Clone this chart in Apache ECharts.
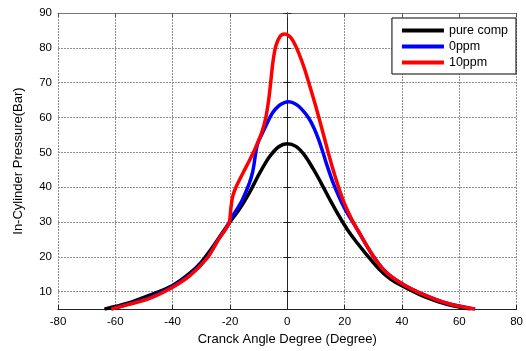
<!DOCTYPE html>
<html><head><meta charset="utf-8">
<script src="https://cdn.jsdelivr.net/npm/echarts@6/dist/echarts.min.js"></script>
<style>html,body{margin:0;padding:0;background:#fff}#c{width:526px;height:351px}</style>
</head><body><div id="c"></div>
<script>
const xTicks = [-80,-60,-40,-20,0,20,40,60,80];
const yTicks = [10,20,30,40,50,60,70,80,90];
const seriesNames = ['pure comp','0ppm','10ppm'];

const pureX = [-63.8,-56,-48,-40,-34,-30,-26,-23,-20.3,-16.8,-13.3,-9.8,-6.4,-3,0,3,6,9,12,15,18,21,24,28,32,36,40,48,56,64];
const pureY = [5,6.6,9.0,11.8,15.3,18.5,22.9,26.5,29.7,33.6,38.3,43.8,48.5,51.6,52.5,51.7,49.2,45.3,40.9,36.2,31.8,27.8,24.4,20.3,16.5,13.6,11.7,8.5,6.3,5];

const ppm0X = [-61.4,-56,-48,-40,-34,-28,-24,-21,-19.2,-17,-15.7,-13.3,-12.2,-11.6,-11.0,-10.3,-9.0,-7.5,-5.2,-2.9,-1,0.6,3,5,7.5,9.3,11,12.5,14,16,18,20,22.6,25,29.6,34.2,40,48,56,65.5];
const ppm0Y = [5,6.3,8.3,11.5,14.8,19.8,25.1,28.7,31.6,34.4,36.3,41.0,44.0,46.6,50.0,52.6,55.0,57.6,61.3,63.4,64.3,64.5,63.8,62.4,59.8,57.0,53.5,49.8,45.9,41.2,37.3,33.9,30.3,27.0,20.7,15.8,12.3,9.0,6.6,5];

const ppm10X = [-61.4,-56,-48,-40,-34,-28,-24,-21,-20.2,-19.6,-19.0,-17.8,-15.5,-13,-11,-9,-7.5,-6.5,-5.8,-5.0,-4.0,-2.5,-1,0.5,2,4,6,8,10,12,14,16,18,20,22.6,25,29.6,34.2,40,48,56,65.5];
const ppm10Y = [5,6.2,8.1,11.3,14.6,19.6,25.0,28.6,30.0,34.5,37.5,40.2,44.0,48.0,51.5,55.5,60.0,65.0,70.0,76.0,80.5,83.3,84.0,83.5,82.0,78.5,74.0,68.6,63.0,57.0,50.8,44.9,39.7,35.2,30.6,27.1,20.7,15.8,12.3,9.0,6.6,5];

function zip(xs, ys){ return xs.map((x,i)=>[x, ys[i]]); }

const font = 'Liberation Sans, Arial, sans-serif';
const chart = echarts.init(document.getElementById('c'), null, {renderer:'canvas'});
const gridLine = {show:true, lineStyle:{color:'#909090', width:1, type:[2,1]}};
chart.setOption({
  animation:false,
  backgroundColor:'#fff',
  grid:{left:58, right:8, top:13, bottom:37, containLabel:false},
  legend:{
    data:seriesNames, orient:'vertical', right:10, top:18,
    backgroundColor:'#fff', borderColor:'#000', borderWidth:1,
    padding:[6,8,5,10], itemGap:3, itemWidth:42, itemHeight:4, icon:'rect',
    textStyle:{fontFamily:font, fontSize:12.5, color:'#000', padding:[0,0,0,0]}
  },
  xAxis:[{
    type:'value', min:-80, max:80, interval:20, position:'bottom',
    name:'Cranck Angle Degree (Degree)', nameLocation:'middle', nameGap:22,
    nameTextStyle:{fontFamily:font, fontSize:13, color:'#000'},
    axisLine:{show:true, lineStyle:{color:'#222', width:1}},
    axisTick:{show:true, inside:true, length:4, lineStyle:{color:'#222'}},
    axisLabel:{fontFamily:font, fontSize:11.5, color:'#000', margin:7},
    splitLine:gridLine
  },{
    type:'value', min:-80, max:80, interval:20, position:'top',
    axisLine:{show:true, lineStyle:{color:'#777', width:1}},
    axisTick:{show:true, inside:true, length:4, lineStyle:{color:'#555'}},
    axisLabel:{show:false}, splitLine:{show:false}
  }],
  yAxis:[{
    type:'value', min:5, max:90, position:'left',
    name:'In-Cylinder Pressure(Bar)', nameLocation:'middle', nameGap:33,
    nameTextStyle:{fontFamily:font, fontSize:13, color:'#000'},
    axisLine:{show:true, lineStyle:{color:'#222', width:1}},
    axisTick:{show:true, inside:true, length:4, customValues:yTicks, lineStyle:{color:'#222'}},
    axisLabel:{fontFamily:font, fontSize:11.5, color:'#000', margin:6, customValues:yTicks},
    splitLine:gridLine
  },{
    type:'value', min:5, max:90, position:'right',
    axisLine:{show:true, lineStyle:{color:'#222', width:1}},
    axisTick:{show:true, inside:true, length:4, customValues:yTicks, lineStyle:{color:'#222'}},
    axisLabel:{show:false, customValues:yTicks}, splitLine:{show:false}
  }],
  series:[
    {name:seriesNames[0], type:'line', data:zip(pureX,pureY), color:'#000', showSymbol:false, smooth:0.3, lineStyle:{width:3.5, color:'#000'}},
    {name:seriesNames[1], type:'line', data:zip(ppm0X,ppm0Y), color:'#0000ff', showSymbol:false, smooth:0.3, lineStyle:{width:3.5, color:'#0000ff'}},
    {name:seriesNames[2], type:'line', data:zip(ppm10X,ppm10Y), color:'#ff0000', showSymbol:false, smooth:0.3, lineStyle:{width:3.5, color:'#ff0000'}}
  ]
});
</script></body></html>
